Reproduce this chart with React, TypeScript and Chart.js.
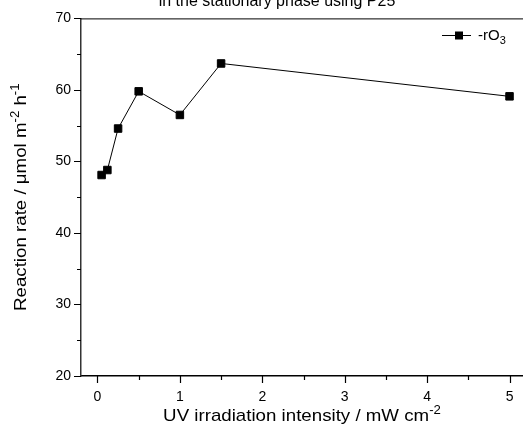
import React, { useEffect, useRef } from 'react';
import { Chart, registerables } from 'chart.js';
Chart.register(...registerables);

const intensity = [0.05, 0.12, 0.25, 0.5, 1, 1.5, 5];
const rate = [48.1, 48.8, 54.6, 59.8, 56.5, 63.7, 59.1];
const xTicks = [0, 1, 2, 3, 4, 5];
const xMinor = [0.5, 1.5, 2.5, 3.5, 4.5];
const yTicks = [20, 30, 40, 50, 60, 70];
const yMinor = [25, 35, 45, 55, 65];
const seriesLabel = '-rO';
const seriesSub = '3';
const titleText = 'in the stationary phase using P25';
const xTitle = 'UV irradiation intensity / mW cm';
const xTitleSup = '-2';
const yTitleParts = ['Reaction rate / \u03bcmol m', '-2', ' h', '-1'];

const FONT = '"Liberation Sans", Arial, sans-serif';

type Seg = { t: string; s?: 'sup' | 'sub' };

function drawRich(
  ctx: CanvasRenderingContext2D,
  segs: Seg[],
  cx: number,
  baseline: number,
  size: number,
  stretch: number
) {
  const small = Math.round(size * 0.68);
  let total = 0;
  const widths = segs.map((sg) => {
    ctx.font = `${sg.s ? small : size}px ${FONT}`;
    const w = ctx.measureText(sg.t).width;
    total += w;
    return w;
  });
  ctx.save();
  ctx.translate(cx, baseline);
  ctx.scale(stretch, 1);
  let x = -total / 2;
  ctx.textAlign = 'left';
  ctx.textBaseline = 'alphabetic';
  segs.forEach((sg, i) => {
    ctx.font = `${sg.s ? small : size}px ${FONT}`;
    const dy = sg.s === 'sup' ? -size * 0.42 : sg.s === 'sub' ? size * 0.25 : 0;
    ctx.fillText(sg.t, x, dy);
    x += widths[i];
  });
  ctx.restore();
}

const decorPlugin = {
  id: 'decor',
  afterDraw(chart: any) {
    const ctx: CanvasRenderingContext2D = chart.ctx;
    const { left, right, top, bottom } = chart.chartArea;
    const xs = chart.scales.x;
    const ys = chart.scales.y;
    ctx.save();
    ctx.strokeStyle = '#000';
    ctx.fillStyle = '#000';
    // top frame
    ctx.lineWidth = 1;
    ctx.beginPath();
    ctx.moveTo(left, top + 0.5);
    ctx.lineTo(right, top + 0.5);
    ctx.stroke();
    // ticks
    ctx.lineWidth = 1.2;
    ctx.beginPath();
    xTicks.forEach((v) => {
      const px = Math.round(xs.getPixelForValue(v)) + 0.5;
      ctx.moveTo(px, bottom);
      ctx.lineTo(px, bottom + 7);
    });
    xMinor.forEach((v) => {
      const px = Math.round(xs.getPixelForValue(v)) + 0.5;
      ctx.moveTo(px, bottom);
      ctx.lineTo(px, bottom + 4);
    });
    yTicks.forEach((v) => {
      const py = Math.round(ys.getPixelForValue(v)) + 0.5;
      ctx.moveTo(left, py);
      ctx.lineTo(left - 7, py);
    });
    yMinor.forEach((v) => {
      const py = Math.round(ys.getPixelForValue(v)) + 0.5;
      ctx.moveTo(left, py);
      ctx.lineTo(left - 4, py);
    });
    ctx.stroke();

    // title (cropped at top)
    ctx.font = `16px ${FONT}`;
    ctx.textAlign = 'center';
    ctx.textBaseline = 'alphabetic';
    ctx.fillText(titleText, 277, 6);

    // x title
    drawRich(ctx, [{ t: xTitle }, { t: xTitleSup, s: 'sup' }], 302, 421, 17, 1.1);

    // y title
    ctx.save();
    ctx.translate(26, (top + bottom) / 2);
    ctx.rotate(-Math.PI / 2);
    drawRich(
      ctx,
      [
        { t: yTitleParts[0] },
        { t: yTitleParts[1], s: 'sup' },
        { t: yTitleParts[2] },
        { t: yTitleParts[3], s: 'sup' },
      ],
      0,
      0,
      17,
      1.1
    );
    ctx.restore();

    // legend
    const ly = 35.5;
    ctx.lineWidth = 1;
    ctx.beginPath();
    ctx.moveTo(442, ly);
    ctx.lineTo(471, ly);
    ctx.stroke();
    ctx.fillRect(459 - 4, ly - 4, 8, 8);
    ctx.font = `15px ${FONT}`;
    ctx.textAlign = 'left';
    ctx.textBaseline = 'middle';
    ctx.fillText(seriesLabel, 478, ly);
    const w = ctx.measureText(seriesLabel).width;
    ctx.font = `11px ${FONT}`;
    ctx.fillText(seriesSub, 478 + w, ly + 5);
    ctx.restore();
  },
};

export default function App() {
  const ref = useRef<HTMLCanvasElement | null>(null);
  useEffect(() => {
    if (!ref.current) return;
    const chart = new Chart(ref.current, {
      type: 'scatter',
      data: {
        datasets: [
          {
            label: seriesLabel + seriesSub,
            data: intensity.map((x, i) => ({ x, y: rate[i] })),
            showLine: true,
            borderColor: '#000',
            borderWidth: 1,
            backgroundColor: '#000',
            pointStyle: 'rect',
            pointRadius: 5.3,
            pointBorderWidth: 1,
            pointBorderColor: '#000',
            pointBackgroundColor: '#000',
          },
        ],
      },
      options: {
        animation: false,
        responsive: false,
        maintainAspectRatio: false,
        devicePixelRatio: 1,
        layout: { padding: { top: 17, right: 14, left: 0, bottom: 0 } },
        plugins: { legend: { display: false }, tooltip: { enabled: false }, title: { display: false } },
        scales: {
          x: {
            type: 'linear',
            min: -0.2,
            max: 5.2,
            afterBuildTicks: (s: any) => {
              s.ticks = xTicks.map((v) => ({ value: v }));
            },
            afterFit: (s: any) => {
              s.height = 59;
            },
            grid: { display: true, drawOnChartArea: false, drawTicks: false },
            border: { display: true, color: '#000', width: 1.5 },
            ticks: {
              color: '#000',
              font: { family: FONT, size: 14 },
              padding: 13,
              maxRotation: 0,
              autoSkip: false,
              callback: (v: any) => String(v),
            },
          },
          y: {
            type: 'linear',
            min: 20,
            max: 70,
            afterBuildTicks: (s: any) => {
              s.ticks = yTicks.map((v) => ({ value: v }));
            },
            afterFit: (s: any) => {
              s.width = 81;
            },
            grid: { display: true, drawOnChartArea: false, drawTicks: false },
            border: { display: true, color: '#333', width: 1.5 },
            ticks: {
              color: '#000',
              font: { family: FONT, size: 14 },
              padding: 10,
              autoSkip: false,
              callback: (v: any) => String(v),
            },
          },
        },
      },
      plugins: [decorPlugin],
    } as any);
    return () => chart.destroy();
  }, []);
  return (
    <div style={{ position: 'fixed', left: 0, top: 0, width: 540, height: 435, background: '#fff' }}>
      <canvas ref={ref} width={540} height={435} style={{ width: 540, height: 435, display: 'block' }} />
    </div>
  );
}
